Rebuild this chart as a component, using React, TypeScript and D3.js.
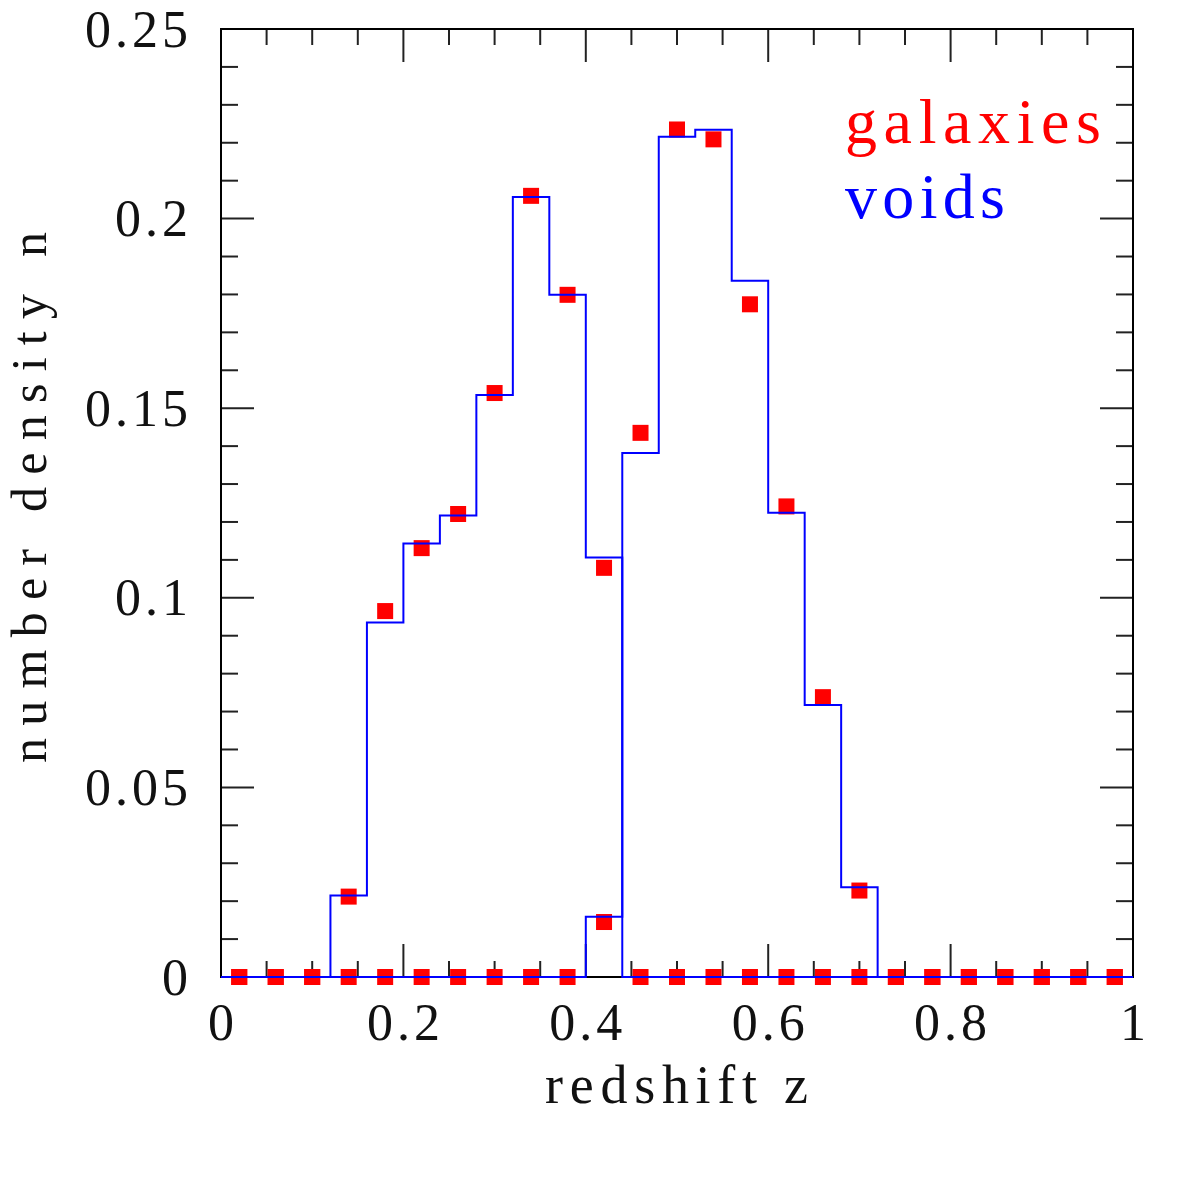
import React from "react";
import * as d3 from "d3";

// bin centres of the redshift histogram (bin width 0.04)
const zCenters = [0.02, 0.06, 0.10, 0.14, 0.18, 0.22, 0.26, 0.30, 0.34, 0.38, 0.42, 0.46, 0.50, 0.54, 0.58, 0.62, 0.66, 0.70, 0.74, 0.78, 0.82, 0.86, 0.90, 0.94, 0.98];
const binWidth = 0.04;

// galaxies (red squares), low-z and high-z samples
const galaxiesLow = [0, 0, 0, 0.0212, 0.0965, 0.1131, 0.1221, 0.1540, 0.2060, 0.1799, 0.1079, 0, 0, 0, 0, 0, 0, 0, 0, 0, 0, 0, 0, 0, 0];
const galaxiesHigh = [0, 0, 0, 0, 0, 0, 0, 0, 0, 0, 0.0145, 0.1435, 0.2235, 0.2209, 0.1774, 0.1241, 0.0738, 0.0228, 0, 0, 0, 0, 0, 0, 0];

// voids (blue step histograms), low-z and high-z samples
const voidsLow = [0, 0, 0, 0.0215, 0.0935, 0.1143, 0.1217, 0.1535, 0.2057, 0.1799, 0.1106, 0, 0, 0, 0, 0, 0, 0, 0, 0, 0, 0, 0, 0, 0];
const voidsHigh = [0, 0, 0, 0, 0, 0, 0, 0, 0, 0, 0.0159, 0.1382, 0.2216, 0.2234, 0.1836, 0.1224, 0.0717, 0.0237, 0, 0, 0, 0, 0, 0, 0];

const xMajorTicks = [0, 0.2, 0.4, 0.6, 0.8, 1];
const xTickLabels = ["0", "0.2", "0.4", "0.6", "0.8", "1"];
const yMajorTicks = [0, 0.05, 0.1, 0.15, 0.2, 0.25];
const yTickLabels = ["0", "0.05", "0.1", "0.15", "0.2", "0.25"];

const xLabel = "redshift z";
const yLabel = "number density n";
const legendLabels = ["galaxies", "voids"];

const FONT = "'Liberation Serif', 'DejaVu Serif', serif";

export default function App() {
  const left = 221, right = 1133, top = 29, bottom = 977;
  const x = d3.scaleLinear().domain([0, 1]).range([left, right]);
  const y = d3.scaleLinear().domain([0, 0.25]).range([bottom, top]);

  const xMinor = d3.range(0, 1.0001, 0.05).filter((v) => Math.abs(v / 0.2 - Math.round(v / 0.2)) > 1e-6);
  const yMinor = d3.range(0, 0.25001, 0.01).filter((v) => Math.abs(v / 0.05 - Math.round(v / 0.05)) > 1e-6);

  const stepLine = d3
    .line<[number, number]>()
    .x((d) => x(d[0]))
    .y((d) => y(d[1]))
    .curve(d3.curveStepAfter);

  const histPoints = (vals: number[]): [number, number][] => {
    const pts: [number, number][] = zCenters.map((c, i) => [c - binWidth / 2, vals[i]]);
    pts.push([zCenters[zCenters.length - 1] + binWidth / 2, vals[vals.length - 1]]);
    return pts;
  };

  const sq = 16;
  const tickColor = "#222";

  return (
    <svg width={1196} height={1196} style={{ position: "absolute", left: 0, top: 0, background: "#fff" }}>
      <rect x={0} y={0} width={1196} height={1196} fill="#fff" />
      {/* ticks */}
      <g stroke={tickColor} strokeWidth={2}>
        {xMajorTicks.map((t) => (
          <g key={"xM" + t}>
            <line x1={x(t)} x2={x(t)} y1={bottom} y2={bottom - 33} />
            <line x1={x(t)} x2={x(t)} y1={top} y2={top + 33} />
          </g>
        ))}
        {xMinor.map((t) => (
          <g key={"xm" + t}>
            <line x1={x(t)} x2={x(t)} y1={bottom} y2={bottom - 16} />
            <line x1={x(t)} x2={x(t)} y1={top} y2={top + 16} />
          </g>
        ))}
        {yMajorTicks.map((t) => (
          <g key={"yM" + t}>
            <line x1={left} x2={left + 33} y1={y(t)} y2={y(t)} />
            <line x1={right} x2={right - 33} y1={y(t)} y2={y(t)} />
          </g>
        ))}
        {yMinor.map((t) => (
          <g key={"ym" + t}>
            <line x1={left} x2={left + 17} y1={y(t)} y2={y(t)} />
            <line x1={right} x2={right - 17} y1={y(t)} y2={y(t)} />
          </g>
        ))}
      </g>
      <rect x={left} y={top} width={right - left} height={bottom - top} fill="none" stroke="#000" strokeWidth={2} />

      {/* tick labels */}
      <g fontFamily={FONT} fontSize={52} fill="#111" letterSpacing={4}>
        {xMajorTicks.map((t, i) => (
          <text key={"xl" + t} x={x(t) + 2} y={1040} textAnchor="middle">
            {xTickLabels[i]}
          </text>
        ))}
        {yMajorTicks.map((t, i) => (
          <text key={"yl" + t} x={192} y={y(t) + 17.5} textAnchor="end">
            {yTickLabels[i]}
          </text>
        ))}
      </g>

      {/* axis labels */}
      <text x={545} y={1103} fontFamily={FONT} fontSize={54} fill="#111" textLength={263} lengthAdjust="spacing">
        {xLabel}
      </text>
      <text
        transform={`translate(46, 763) rotate(-90)`}
        x={0}
        y={0}
        fontFamily={FONT}
        fontSize={50}
        fill="#111"
        textLength={531}
        lengthAdjust="spacing"
      >
        {yLabel}
      </text>

      {/* galaxies squares */}
      <g fill="#ff0000">
        {[galaxiesLow, galaxiesHigh].map((series, si) =>
          series.map((v, i) => (
            <rect key={`g${si}-${i}`} x={x(zCenters[i]) - sq / 2} y={y(v) - sq / 2} width={sq} height={sq} />
          ))
        )}
      </g>

      {/* voids histograms */}
      <g fill="none" stroke="#0000ff" strokeWidth={2}>
        <path d={stepLine(histPoints(voidsLow)) || ""} />
        <path d={stepLine(histPoints(voidsHigh)) || ""} />
      </g>

      {/* legend */}
      <text x={845} y={143} fontFamily={FONT} fontSize={64} fill="#ff0000" textLength={256} lengthAdjust="spacing">
        {legendLabels[0]}
      </text>
      <text x={845} y={218} fontFamily={FONT} fontSize={64} fill="#0000ff" textLength={160} lengthAdjust="spacing">
        {legendLabels[1]}
      </text>
    </svg>
  );
}
